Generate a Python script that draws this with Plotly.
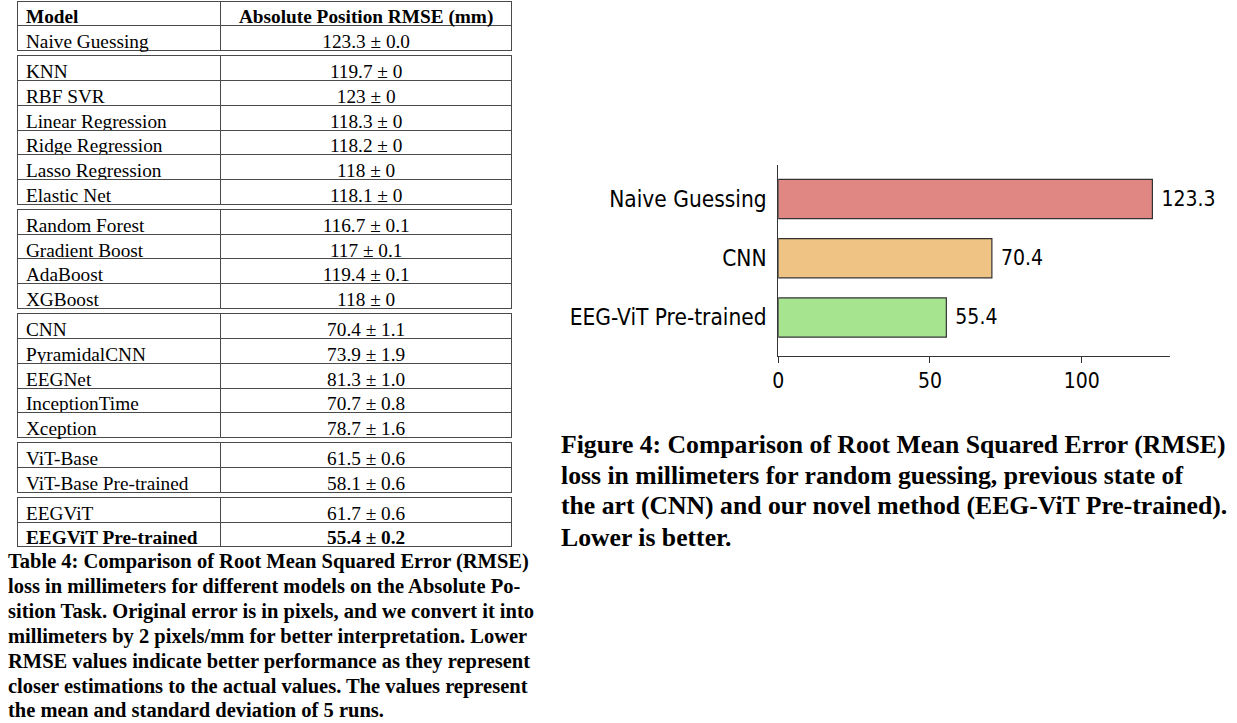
import plotly.graph_objects as go

# table data, one list per group (boxes in the original table)
header = ['Model', 'Absolute Position RMSE (mm)']
group_models = [
    ['Naive Guessing'],
    ['KNN', 'RBF SVR', 'Linear Regression', 'Ridge Regression', 'Lasso Regression', 'Elastic Net'],
    ['Random Forest', 'Gradient Boost', 'AdaBoost', 'XGBoost'],
    ['CNN', 'PyramidalCNN', 'EEGNet', 'InceptionTime', 'Xception'],
    ['ViT-Base', 'ViT-Base Pre-trained'],
    ['EEGViT', 'EEGViT Pre-trained'],
]
group_rmse = [
    ['123.3 ± 0.0'],
    ['119.7 ± 0', '123 ± 0', '118.3 ± 0', '118.2 ± 0', '118 ± 0', '118.1 ± 0'],
    ['116.7 ± 0.1', '117 ± 0.1', '119.4 ± 0.1', '118 ± 0'],
    ['70.4 ± 1.1', '73.9 ± 1.9', '81.3 ± 1.0', '70.7 ± 0.8', '78.7 ± 1.6'],
    ['61.5 ± 0.6', '58.1 ± 0.6'],
    ['61.7 ± 0.6', '55.4 ± 0.2'],
]
best_model = 'EEGViT Pre-trained'

# bar chart data
bar_models = ['Naive Guessing', 'CNN', 'EEG-ViT Pre-trained']
bar_rmse = [123.3, 70.4, 55.4]
bar_colors = ['#E08683', '#EFC383', '#A6E48F']
x_ticks = [0, 50, 100]

table_caption = [
    'Table 4: Comparison of Root Mean Squared Error (RMSE)',
    'loss in millimeters for different models on the Absolute Po-',
    'sition Task. Original error is in pixels, and we convert it into',
    'millimeters by 2 pixels/mm for better interpretation. Lower',
    'RMSE values indicate better performance as they represent',
    'closer estimations to the actual values. The values represent',
    'the mean and standard deviation of 5 runs.',
]
figure_caption = [
    'Figure 4: Comparison of Root Mean Squared Error (RMSE)',
    'loss in millimeters for random guessing, previous state of',
    'the art (CNN) and our novel method (EEG-ViT Pre-trained).',
    'Lower is better.',
]

W, H = 1237, 723
SERIF = 'Liberation Serif, DejaVu Serif, serif'
NARROW = 'Liberation Sans Narrow, DejaVu Sans Condensed, sans-serif'


def px_x(v):
    return v / W


def px_y(v):
    return 1 - v / H


fig = go.Figure()

# ---- table, one go.Table per box ----
row_h = 24.8
gap = 5
top = 1
for i, (models, rmse) in enumerate(zip(group_models, group_rmse)):
    if i == 0:
        head = header
        body = [models, rmse]
        head_bold = True
    else:
        head = [models[0], rmse[0]]
        body = [models[1:], rmse[1:]]
        head_bold = models[0] == best_model
    body_bold = best_model in body[0]
    n_rows = len(models) + (1 if i == 0 else 0)
    box_h = n_rows * row_h
    common = dict(fill_color='white', line=dict(color='#4a4a4a', width=1),
                  align=['left', 'center'], height=row_h)
    fig.add_trace(go.Table(
        domain=dict(x=[px_x(12), px_x(509)], y=[px_y(top + box_h + 2), px_y(top)]),
        columnwidth=[202, 291],
        header=dict(values=head, font=dict(family=SERIF, size=19.3, color='black',
                                           weight='bold' if head_bold else 'normal'), **common),
        cells=dict(values=body, font=dict(family=SERIF, size=19.3, color='black',
                                          weight='bold' if body_bold else 'normal'), **common),
    ))
    top += box_h + gap

# ---- bar chart ----
fig.add_trace(go.Bar(
    y=bar_models, x=bar_rmse, orientation='h',
    marker=dict(color=bar_colors, line=dict(color='#333333', width=1.2)),
    text=[' ' + str(v) for v in bar_rmse], textposition='outside',
    textfont=dict(family=NARROW, size=21, color='black'),
    cliponaxis=False, width=0.66, showlegend=False,
))

fig.update_xaxes(
    domain=[px_x(776), px_x(1170)], range=[0, 129.2],
    tickvals=x_ticks, ticks='outside', ticklen=6, tickcolor='#333',
    showline=True, linecolor='#333', linewidth=1.2, showgrid=False, zeroline=False,
    tickfont=dict(family=NARROW, size=21, color='black'), anchor='y',
)
fig.update_yaxes(
    domain=[px_y(356), px_y(165)], categoryorder='array', categoryarray=bar_models,
    range=[2.65, -0.574], showline=True, linecolor='#333', linewidth=1.2,
    showgrid=False, zeroline=False, ticks='', ticklabelstandoff=6,
    tickfont=dict(family=NARROW, size=22.5, color='black'), anchor='x',
)

# ---- captions ----
for line, yc in zip(table_caption, [561, 586, 611, 636, 661, 686, 710]):
    fig.add_annotation(text=line, x=px_x(0), y=px_y(yc), xref='paper', yref='paper',
                       xanchor='left', yanchor='middle', showarrow=False,
                       font=dict(family=SERIF, size=20.5, color='black', weight='bold'))
for line, yc in zip(figure_caption, [444, 475, 506, 537]):
    fig.add_annotation(text=line, x=px_x(556), y=px_y(yc), xref='paper', yref='paper',
                       xanchor='left', yanchor='middle', showarrow=False,
                       font=dict(family=SERIF, size=25.7, color='black', weight='bold'))

fig.update_layout(
    width=W, height=H, margin=dict(l=0, r=0, t=0, b=0),
    paper_bgcolor='white', plot_bgcolor='white', showlegend=False,
)

# drop the default page margin so the figure sits at the window corner
fig.write_html('out.html', config={'displayModeBar': False},
               post_script="document.body.style.margin='0';")
